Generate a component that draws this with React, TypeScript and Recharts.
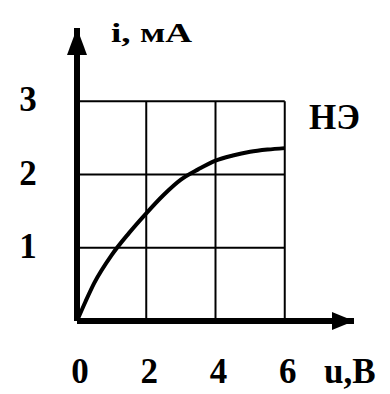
import React from "react";
import {
  ComposedChart,
  Line,
  XAxis,
  YAxis,
  ReferenceLine,
  ReferenceDot,
  Customized,
} from "recharts";

// Voltage u (V) and current i (mA)
const uValues = [0, 0.25, 0.5, 1, 1.5, 2, 2.5, 3, 3.5, 4, 4.5, 5, 5.5, 6];
const iValues = [0, 0.27, 0.52, 0.9, 1.2, 1.47, 1.72, 1.93, 2.07, 2.19, 2.26, 2.31, 2.34, 2.36];

const xTicks = [0, 2, 4, 6];
const yTicks = [1, 2, 3];
const gridU = [2, 4, 6];
const gridI = [1, 2, 3];

const xLabel = "u,В";
const yLabel = "i, мА";
const curveLabel = "НЭ";

const data = uValues.map((u, k) => ({ u, i: iValues[k] }));

const FONT = "Liberation Serif";
const textStyle: React.CSSProperties = { fontFamily: "'Liberation Serif', serif", fontWeight: 700 };

const XTick = (props: any) => {
  const { x, payload } = props;
  return (
    <text x={x + 3} y={383} textAnchor="middle" fontFamily={FONT} fontWeight="bold" fontSize={35} fill="#000" style={textStyle}>
      {payload.value}
    </text>
  );
};

const YTick = (props: any) => {
  const { y, payload } = props;
  return (
    <text x={28} y={y + 10} textAnchor="middle" fontFamily={FONT} fontWeight="bold" fontSize={35} fill="#000" style={textStyle}>
      {payload.value}
    </text>
  );
};

const UpArrow = (props: any) => {
  const { cx, cy } = props;
  return <polygon points={`${cx},${cy} ${cx - 10},${cy + 27} ${cx + 10},${cy + 27}`} fill="#000" />;
};

const RightArrow = (props: any) => {
  const { cx, cy } = props;
  return <polygon points={`${cx},${cy} ${cx - 22},${cy - 9} ${cx - 22},${cy + 9}`} fill="#000" />;
};

const Labels = () => (
  <g fill="#000">
    <text x={111} y={42} fontSize={27} textLength={81} lengthAdjust="spacingAndGlyphs" fontFamily={FONT} fontWeight="bold" style={textStyle}>
      {yLabel}
    </text>
    <text x={309} y={129} fontSize={35} fontFamily={FONT} fontWeight="bold" style={textStyle}>
      {curveLabel}
    </text>
    <text x={324} y={383} fontSize={35} fontFamily={FONT} fontWeight="bold" style={textStyle}>
      {xLabel}
    </text>
  </g>
);

export default function App() {
  return (
    <div style={{ position: "absolute", left: 0, top: 0, background: "#fff" }}>
      <ComposedChart
        width={390}
        height={394}
        data={data}
        margin={{ top: 28, right: 36, bottom: 13, left: 17 }}
      >
        <XAxis
          dataKey="u"
          type="number"
          domain={[0, 8]}
          ticks={xTicks}
          tick={<XTick />}
          tickLine={false}
          axisLine={{ stroke: "#000", strokeWidth: 6 }}
          height={60}
          allowDataOverflow
        />
        <YAxis
          type="number"
          domain={[0, 4]}
          ticks={yTicks}
          tick={<YTick />}
          tickLine={false}
          axisLine={{ stroke: "#000", strokeWidth: 6 }}
          width={60}
          allowDataOverflow
        />
        {gridI.map((v) => (
          <ReferenceLine
            key={`h${v}`}
            segment={[
              { x: 0, y: v },
              { x: 6, y: v },
            ]}
            stroke="#000"
            strokeWidth={2}
          />
        ))}
        {gridU.map((v) => (
          <ReferenceLine
            key={`v${v}`}
            segment={[
              { x: v, y: 0 },
              { x: v, y: 3 },
            ]}
            stroke="#000"
            strokeWidth={2}
          />
        ))}
        <Line
          dataKey="i"
          type="monotone"
          stroke="#000"
          strokeWidth={4}
          dot={false}
          isAnimationActive={false}
        />
        <ReferenceDot x={0} y={4} r={0} shape={<UpArrow />} ifOverflow="visible" />
        <ReferenceDot x={8} y={0} r={0} shape={<RightArrow />} ifOverflow="visible" />
        <Customized component={Labels} />
      </ComposedChart>
    </div>
  );
}
